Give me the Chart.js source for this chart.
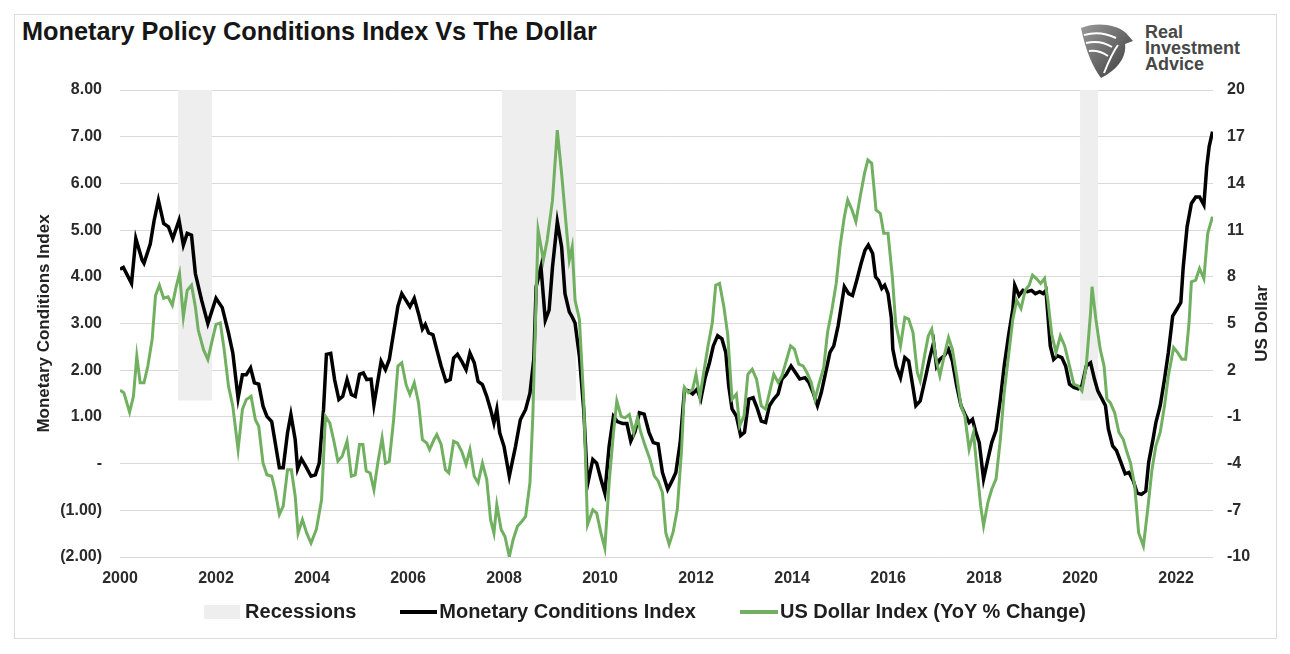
<!DOCTYPE html>
<html>
<head>
<meta charset="utf-8">
<title>Monetary Policy Conditions Index Vs The Dollar</title>
<script src="https://cdn.jsdelivr.net/npm/chart.js@4.4.0/dist/chart.umd.min.js"></script>
<style>
  html, body { margin: 0; padding: 0; background: #fff; }
  body { width: 1290px; height: 654px; position: relative; overflow: hidden;
         font-family: "Liberation Sans", Arial, sans-serif; }
  #frame { position: absolute; left: 14px; top: 14px; width: 1261px; height: 623px;
           border: 1px solid #dcdcdc; }
  #title { position: absolute; left: 22px; top: 17px; font-size: 25.3px; font-weight: bold;
           color: #161616; white-space: nowrap; }
  #logo { position: absolute; left: 1078px; top: 23px; }
  #logoText { position: absolute; left: 1145px; top: 24px; font-size: 18px; font-weight: bold;
              line-height: 16px; color: #474747; }
  #chart { position: absolute; left: 0; top: 0; }
  #legend { position: absolute; left: 0; top: 600px; width: 1290px; display: flex;
            justify-content: center; align-items: center; gap: 44px;
            font-size: 20px; font-weight: bold; color: #1e1e1e; }
  .item { display: flex; align-items: center; }
  .swatch { display: inline-block; }
</style>
</head>
<body>
<div id="frame"></div>
<div id="title">Monetary Policy Conditions Index Vs The Dollar</div>
<svg id="logo" width="56" height="56" viewBox="0 0 56 56">
  <defs>
    <linearGradient id="lg" x1="0" y1="0" x2="1" y2="1">
      <stop offset="0" stop-color="#9a9a9a"/>
      <stop offset="1" stop-color="#3a3a3a"/>
    </linearGradient>
  </defs>
  <path d="M3,5 C18,-1 38,1 48,10 L55,18 L47,21 C49,33 40,47 23,55 C15,44 8,29 3,5 Z" fill="url(#lg)"/>
  <path d="M6,12 C16,9 28,10 38,15" stroke="#fff" stroke-width="2" fill="none"/>
  <path d="M8,20 C17,18 26,19 34,24" stroke="#fff" stroke-width="2" fill="none"/>
  <path d="M11,28 C18,27 24,29 30,33" stroke="#fff" stroke-width="2" fill="none"/>
  <path d="M40,22 C34,30 30,40 26,50" stroke="#fff" stroke-width="2" fill="none"/>
</svg>
<div id="logoText">Real<br>Investment<br>Advice</div>
<canvas id="chart" width="1290" height="654"></canvas>
<div id="legend"></div>

<script>
// ---------------- Data ----------------
const xTickYears = [2000, 2002, 2004, 2006, 2008, 2010, 2012, 2014, 2016, 2018, 2020, 2022];

// recession shading (left axis units)
const recessionStarts = [2001.21, 2007.95, 2020.00];
const recessionEnds   = [2001.92, 2009.50, 2020.38];
const recessionTop = 8;
const recessionFloor = 1.35;

// Monetary Conditions Index (left axis)
const mciYears = [
  2000.00, 2000.07, 2000.24, 2000.33, 2000.46, 2000.50, 2000.63, 2000.71, 2000.80, 2000.91,
  2001.01, 2001.10, 2001.23, 2001.32, 2001.40, 2001.49, 2001.57, 2001.70, 2001.83, 2002.00,
  2002.13, 2002.26, 2002.35, 2002.46, 2002.55, 2002.63, 2002.72, 2002.80, 2002.89, 2002.98,
  2003.06, 2003.16, 2003.32, 2003.40, 2003.49, 2003.56, 2003.65, 2003.70, 2003.78, 2003.87,
  2003.98, 2004.07, 2004.15, 2004.24, 2004.30, 2004.39, 2004.47, 2004.56, 2004.64, 2004.73,
  2004.82, 2004.90, 2004.99, 2005.07, 2005.14, 2005.23, 2005.29, 2005.37, 2005.44, 2005.53,
  2005.61, 2005.70, 2005.79, 2005.87, 2006.04, 2006.13, 2006.22, 2006.30, 2006.36, 2006.43,
  2006.52, 2006.60, 2006.69, 2006.79, 2006.88, 2006.95, 2007.03, 2007.12, 2007.21, 2007.29,
  2007.38, 2007.46, 2007.55, 2007.64, 2007.72, 2007.79, 2007.85, 2007.91, 2008.00, 2008.11,
  2008.24, 2008.34, 2008.45, 2008.54, 2008.62, 2008.67, 2008.77, 2008.86, 2008.94, 2009.01,
  2009.11, 2009.20, 2009.27, 2009.36, 2009.42, 2009.48, 2009.57, 2009.66, 2009.74, 2009.85,
  2009.93, 2010.02, 2010.10, 2010.19, 2010.28, 2010.36, 2010.47, 2010.56, 2010.64, 2010.73,
  2010.82, 2010.92, 2011.02, 2011.11, 2011.21, 2011.30, 2011.41, 2011.50, 2011.58, 2011.67,
  2011.76, 2011.84, 2011.93, 2012.02, 2012.10, 2012.19, 2012.28, 2012.36, 2012.45, 2012.54,
  2012.62, 2012.68, 2012.75, 2012.84, 2012.93, 2013.01, 2013.10, 2013.19, 2013.27, 2013.36,
  2013.45, 2013.53, 2013.62, 2013.71, 2013.79, 2013.88, 2013.98, 2014.07, 2014.16, 2014.27,
  2014.35, 2014.44, 2014.53, 2014.61, 2014.70, 2014.79, 2014.87, 2014.96, 2015.00, 2015.09,
  2015.18, 2015.26, 2015.35, 2015.44, 2015.52, 2015.59, 2015.68, 2015.74, 2015.80, 2015.87,
  2015.93, 2016.00, 2016.07, 2016.10, 2016.17, 2016.26, 2016.35, 2016.43, 2016.52, 2016.58,
  2016.67, 2016.78, 2016.87, 2016.95, 2017.01, 2017.08, 2017.17, 2017.26, 2017.34, 2017.43,
  2017.52, 2017.60, 2017.69, 2017.76, 2017.82, 2017.90, 2017.99, 2018.08, 2018.16, 2018.25,
  2018.34, 2018.42, 2018.51, 2018.60, 2018.64, 2018.73, 2018.81, 2018.90, 2018.99, 2019.07,
  2019.16, 2019.23, 2019.29, 2019.33, 2019.38, 2019.45, 2019.53, 2019.62, 2019.70, 2019.78,
  2019.87, 2019.96, 2020.04, 2020.13, 2020.22, 2020.30, 2020.37, 2020.46, 2020.53, 2020.59,
  2020.68, 2020.76, 2020.85, 2020.94, 2021.02, 2021.11, 2021.19, 2021.28, 2021.37, 2021.43,
  2021.52, 2021.58, 2021.67, 2021.76, 2021.84, 2021.93, 2022.02, 2022.10, 2022.15, 2022.23,
  2022.32, 2022.41, 2022.49, 2022.58, 2022.64, 2022.69, 2022.76
];
const mciValues = [
  4.16, 4.20, 3.86, 4.82, 4.36, 4.29, 4.70, 5.20, 5.64, 5.14,
  5.07, 4.82, 5.21, 4.68, 4.93, 4.89, 4.07, 3.50, 3.00, 3.54,
  3.34, 2.80, 2.37, 1.40, 1.90, 1.90, 2.05, 1.73, 1.70, 1.23,
  1.01, 0.90, -0.09, -0.09, 0.66, 1.05, 0.51, -0.11, 0.10, -0.06,
  -0.27, -0.24, 0.01, 1.16, 2.34, 2.36, 1.80, 1.37, 1.44, 1.80,
  1.48, 1.44, 1.91, 1.94, 1.80, 1.81, 1.26, 1.76, 2.19, 2.01,
  2.23, 2.80, 3.37, 3.64, 3.36, 3.54, 3.21, 2.88, 2.98, 2.80,
  2.76, 2.44, 2.09, 1.76, 1.80, 2.26, 2.34, 2.19, 2.01, 2.37,
  2.16, 1.76, 1.69, 1.44, 1.16, 0.87, 1.16, 0.66, 0.37, -0.27,
  0.37, 0.94, 1.16, 1.51, 2.23, 3.79, 4.21, 3.07, 3.29, 4.21,
  5.18, 4.64, 3.64, 3.25, 3.14, 3.01, 2.30, 1.16, -0.45, 0.09,
  0.01, -0.34, -0.63, 0.37, 1.01, 0.90, 0.86, 0.86, 0.48, 0.69,
  1.09, 1.06, 0.67, 0.45, 0.42, -0.19, -0.55, -0.37, -0.19, 0.45,
  1.59, 1.56, 1.49, 1.59, 1.38, 1.84, 2.16, 2.52, 2.74, 2.67,
  2.38, 1.67, 1.17, 1.02, 0.60, 0.67, 1.38, 1.41, 1.20, 0.91,
  0.88, 1.24, 1.38, 1.49, 1.81, 1.91, 2.09, 1.95, 1.81, 1.84,
  1.74, 1.52, 1.24, 1.52, 1.95, 2.38, 2.52, 2.95, 3.21, 3.79,
  3.64, 3.60, 3.93, 4.29, 4.57, 4.68, 4.50, 4.00, 3.93, 3.75,
  3.82, 3.64, 3.11, 2.45, 2.09, 1.84, 2.27, 2.20, 1.63, 1.24,
  1.34, 1.84, 2.27, 2.59, 2.09, 2.23, 2.31, 2.45, 2.20, 1.67,
  1.24, 1.06, 0.88, 0.95, 0.71, 0.45, -0.33, 0.09, 0.45, 0.71,
  1.38, 2.09, 2.74, 3.31, 3.82, 3.60, 3.71, 3.68, 3.71, 3.64,
  3.68, 3.64, 3.71, 3.18, 2.52, 2.23, 2.31, 2.27, 2.09, 1.70,
  1.63, 1.60, 1.67, 2.09, 2.16, 1.81, 1.56, 1.38, 1.24, 0.74,
  0.38, 0.28, 0.03, -0.22, -0.19, -0.37, -0.63, -0.66, -0.59, 0.03,
  0.52, 0.88, 1.24, 1.81, 2.38, 3.16, 3.31, 3.45, 4.21, 5.07,
  5.57, 5.71, 5.71, 5.54, 6.36, 6.79, 7.11
];

// US Dollar Index, YoY % change (right axis)
const usdYears = [
  2000.00, 2000.08, 2000.20, 2000.28, 2000.35, 2000.42, 2000.50, 2000.58, 2000.67, 2000.74,
  2000.82, 2000.91, 2001.00, 2001.09, 2001.17, 2001.24, 2001.32, 2001.40, 2001.49, 2001.57,
  2001.63, 2001.74, 2001.83, 2001.91, 2002.00, 2002.09, 2002.17, 2002.26, 2002.35, 2002.46,
  2002.55, 2002.63, 2002.73, 2002.82, 2002.89, 2002.98, 2003.06, 2003.16, 2003.23, 2003.32,
  2003.40, 2003.49, 2003.57, 2003.65, 2003.71, 2003.80, 2003.89, 2003.98, 2004.09, 2004.20,
  2004.28, 2004.37, 2004.45, 2004.54, 2004.63, 2004.73, 2004.82, 2004.90, 2004.99, 2005.06,
  2005.13, 2005.21, 2005.29, 2005.37, 2005.46, 2005.53, 2005.61, 2005.70, 2005.79, 2005.87,
  2005.96, 2006.04, 2006.13, 2006.22, 2006.30, 2006.39, 2006.45, 2006.54, 2006.60, 2006.69,
  2006.78, 2006.85, 2006.95, 2007.03, 2007.12, 2007.21, 2007.29, 2007.38, 2007.46, 2007.55,
  2007.64, 2007.72, 2007.79, 2007.85, 2007.94, 2008.02, 2008.11, 2008.19, 2008.28, 2008.37,
  2008.45, 2008.54, 2008.60, 2008.67, 2008.71, 2008.82, 2008.90, 2009.01, 2009.11, 2009.20,
  2009.31, 2009.36, 2009.42, 2009.48, 2009.57, 2009.66, 2009.74, 2009.85, 2009.93, 2010.02,
  2010.10, 2010.19, 2010.28, 2010.35, 2010.44, 2010.52, 2010.61, 2010.70, 2010.78, 2010.85,
  2010.94, 2011.04, 2011.13, 2011.21, 2011.30, 2011.37, 2011.44, 2011.52, 2011.61, 2011.70,
  2011.76, 2011.84, 2011.93, 2012.00, 2012.08, 2012.16, 2012.25, 2012.34, 2012.41, 2012.49,
  2012.58, 2012.66, 2012.75, 2012.84, 2012.91, 2013.00, 2013.08, 2013.17, 2013.26, 2013.36,
  2013.45, 2013.53, 2013.62, 2013.71, 2013.79, 2013.88, 2013.97, 2014.05, 2014.14, 2014.23,
  2014.31, 2014.40, 2014.48, 2014.57, 2014.66, 2014.74, 2014.83, 2014.92, 2015.00, 2015.09,
  2015.16, 2015.25, 2015.33, 2015.42, 2015.51, 2015.58, 2015.66, 2015.75, 2015.84, 2015.91,
  2016.00, 2016.09, 2016.16, 2016.26, 2016.35, 2016.43, 2016.52, 2016.61, 2016.67, 2016.76,
  2016.84, 2016.91, 2017.00, 2017.08, 2017.17, 2017.26, 2017.34, 2017.43, 2017.52, 2017.60,
  2017.69, 2017.78, 2017.86, 2017.93, 2017.99, 2018.08, 2018.16, 2018.25, 2018.34, 2018.42,
  2018.51, 2018.60, 2018.68, 2018.77, 2018.86, 2018.94, 2019.01, 2019.09, 2019.18, 2019.26,
  2019.33, 2019.41, 2019.50, 2019.59, 2019.68, 2019.78, 2019.87, 2019.96, 2020.04, 2020.13,
  2020.22, 2020.25, 2020.33, 2020.42, 2020.50, 2020.56, 2020.63, 2020.72, 2020.81, 2020.90,
  2020.98, 2021.05, 2021.14, 2021.22, 2021.32, 2021.41, 2021.50, 2021.58, 2021.67, 2021.76,
  2021.84, 2021.95, 2022.03, 2022.12, 2022.20, 2022.27, 2022.32, 2022.41, 2022.49, 2022.58,
  2022.66, 2022.76
];
const usdValues = [
  0.71, 0.56, -0.70, 0.32, 2.90, 1.19, 1.19, 2.27, 3.98, 6.80,
  7.46, 6.62, 6.71, 6.17, 7.37, 8.21, 5.42, 7.13, 7.46, 6.08,
  4.58, 3.32, 2.69, 3.77, 4.94, 5.03, 3.32, 0.98, -0.31, -3.10,
  -0.52, 0.11, 0.32, -1.18, -1.60, -3.97, -4.72, -4.81, -5.68, -7.27,
  -6.73, -4.39, -4.39, -6.10, -8.47, -7.60, -8.47, -9.10, -8.23, -6.31,
  -0.97, -1.39, -2.47, -3.85, -3.52, -2.56, -4.81, -4.72, -2.77, -2.77,
  -4.48, -4.60, -5.68, -3.97, -2.35, -3.97, -3.85, -1.18, 2.27, 2.48,
  1.07, 0.44, 1.19, -0.10, -2.47, -2.68, -3.10, -2.47, -2.14, -2.77,
  -4.39, -4.60, -2.56, -2.68, -3.22, -4.06, -3.10, -4.81, -5.23, -3.97,
  -5.02, -7.60, -8.47, -6.64, -8.23, -8.68, -9.97, -8.89, -8.02, -7.72,
  -7.39, -5.23, -0.97, 6.77, 11.00, 9.08, 10.37, 12.92, 17.42, 14.63,
  10.79, 9.08, 9.92, 6.50, 5.27, 0.11, -7.93, -6.97, -7.18, -8.47,
  -9.43, -5.23, -2.02, 0.02, -0.97, -1.06, -0.85, -2.02, -1.06, -2.00,
  -2.86, -3.72, -4.79, -5.11, -5.86, -8.44, -9.19, -8.44, -6.94, -3.08,
  0.89, 0.56, 0.78, 1.74, 0.24, 1.85, 3.56, 5.06, 7.46, 7.57,
  6.07, 4.30, 0.14, 0.46, -1.58, -0.94, 1.74, 2.06, 1.42, -0.29,
  -0.50, 0.56, 1.74, 1.21, 1.64, 2.60, 3.56, 3.35, 2.39, 2.28,
  1.85, 1.21, 0.14, 1.21, 2.17, 4.42, 5.86, 7.57, 9.93, 11.86,
  12.93, 12.29, 11.54, 13.14, 14.64, 15.50, 15.29, 12.29, 12.07, 10.79,
  10.79, 8.00, 5.00, 3.56, 5.39, 5.28, 4.42, 1.85, 1.31, 2.92,
  4.21, 4.64, 2.71, 1.64, 2.92, 4.10, 3.35, 1.64, -0.29, -0.94,
  -3.08, -2.00, -4.58, -6.72, -8.00, -6.50, -5.65, -5.00, -2.44, 0.56,
  2.92, 5.28, 6.50, 5.96, 7.14, 7.46, 8.11, 7.89, 7.57, 7.89,
  6.50, 4.30, 3.14, 4.21, 3.56, 2.28, 1.10, 0.99, 0.67, 2.28,
  5.71, 7.36, 5.28, 3.35, 2.28, 0.14, -0.08, -0.72, -2.00, -2.44,
  -3.29, -3.94, -5.44, -8.44, -9.29, -6.94, -4.36, -2.86, -2.00, -0.29,
  1.64, 3.46, 3.14, 2.71, 2.71, 5.00, 7.68, 7.79, 8.54, 7.89,
  10.79, 11.86
];

const seriesLabels = ['Recessions', 'Monetary Conditions Index', 'US Dollar Index (YoY % Change)'];
const colors = { recession: '#eeeeee', mci: '#000000', usd: '#70b060' };

// ---------------- Helpers ----------------
const toPoints = (xs, ys) => xs.map((x, i) => ({ x: x, y: ys[i] }));

function fmtLeft(v) {
  if (v === 0) return '-';
  const s = Math.abs(v).toFixed(2);
  return v < 0 ? '(' + s + ')' : s;
}

const tickFont = { family: '"Liberation Sans", Arial, sans-serif', size: 16, weight: 'bold' };

// draws both axis titles reading bottom-to-top, like the original
const axisTitles = {
  id: 'axisTitles',
  afterDraw(chart) {
    const { ctx, chartArea, scales } = chart;
    const midY = (chartArea.top + chartArea.bottom) / 2;
    const titles = [
      [scales.y.left + 44, 'Monetary Conditions Index'],
      [scales.y2.right - 28, 'US Dollar']
    ];
    ctx.save();
    ctx.font = 'bold 17px "Liberation Sans", Arial, sans-serif';
    ctx.fillStyle = '#222';
    ctx.textAlign = 'center';
    ctx.textBaseline = 'middle';
    titles.forEach(([x, text]) => {
      ctx.save();
      ctx.translate(x, midY);
      ctx.rotate(-Math.PI / 2);
      ctx.fillText(text, 0, 0);
      ctx.restore();
    });
    ctx.restore();
  }
};

// ---------------- Chart ----------------
const recessionSets = recessionStarts.map((s, i) => ({
  label: seriesLabels[0],
  data: [{ x: s, y: recessionTop }, { x: recessionEnds[i], y: recessionTop }],
  yAxisID: 'y',
  borderWidth: 0,
  pointRadius: 0,
  backgroundColor: colors.recession,
  fill: { value: recessionFloor },
  order: 3
}));

const chart = new Chart(document.getElementById('chart'), {
  type: 'line',
  data: {
    datasets: [
      ...recessionSets,
      {
        label: seriesLabels[1],
        data: toPoints(mciYears, mciValues),
        yAxisID: 'y',
        borderColor: colors.mci,
        borderWidth: 3.5,
        pointRadius: 0,
        tension: 0,
        fill: false,
        order: 2
      },
      {
        label: seriesLabels[2],
        data: toPoints(usdYears, usdValues),
        yAxisID: 'y2',
        borderColor: colors.usd,
        borderWidth: 3,
        pointRadius: 0,
        tension: 0,
        fill: false,
        order: 1
      }
    ]
  },
  options: {
    responsive: false,
    animation: false,
    layout: { padding: { left: 0, right: 0, top: 90, bottom: 67 } },
    plugins: {
      legend: { display: false },
      tooltip: { enabled: false },
      title: { display: false }
    },
    scales: {
      x: {
        type: 'linear',
        min: 2000,
        max: 2022.77,
        afterBuildTicks: s => { s.ticks = xTickYears.map(v => ({ value: v })); },
        afterFit: s => { s.height = 30; },
        grid: { display: false },
        border: { display: false },
        ticks: {
          callback: v => String(v),
          font: tickFont,
          color: '#2b2b2b',
          maxRotation: 0,
          autoSkip: false,
          padding: 4
        }
      },
      y: {
        position: 'left',
        min: -2,
        max: 8,
        afterFit: s => { s.width = 120; },
        grid: { color: '#d9d9d9', lineWidth: 1, drawTicks: false },
        border: { display: false },
        ticks: { stepSize: 1, callback: fmtLeft, font: tickFont, color: '#2b2b2b', padding: 18 }
      },
      y2: {
        position: 'right',
        min: -10,
        max: 20,
        afterFit: s => { s.width = 77; },
        grid: { display: false, drawTicks: false },
        border: { display: false },
        ticks: { stepSize: 3, font: tickFont, color: '#2b2b2b', padding: 14 }
      }
    }
  },
  plugins: [axisTitles]
});

// ---------------- Legend (HTML) ----------------
const legendBox = document.getElementById('legend');
const legendItems = [
  { text: seriesLabels[0], color: colors.recession, w: 36, h: 14, gap: 5 },
  { text: seriesLabels[1], color: colors.mci, w: 37, h: 4, gap: 2 },
  { text: seriesLabels[2], color: colors.usd, w: 38, h: 4, gap: 2 }
];
legendItems.forEach(it => {
  const div = document.createElement('div');
  div.className = 'item';
  const sw = document.createElement('span');
  sw.className = 'swatch';
  sw.style.width = it.w + 'px';
  sw.style.height = it.h + 'px';
  sw.style.background = it.color;
  sw.style.marginRight = it.gap + 'px';
  const label = document.createElement('span');
  label.textContent = it.text;
  div.appendChild(sw);
  div.appendChild(label);
  legendBox.appendChild(div);
});
</script>
</body>
</html>
